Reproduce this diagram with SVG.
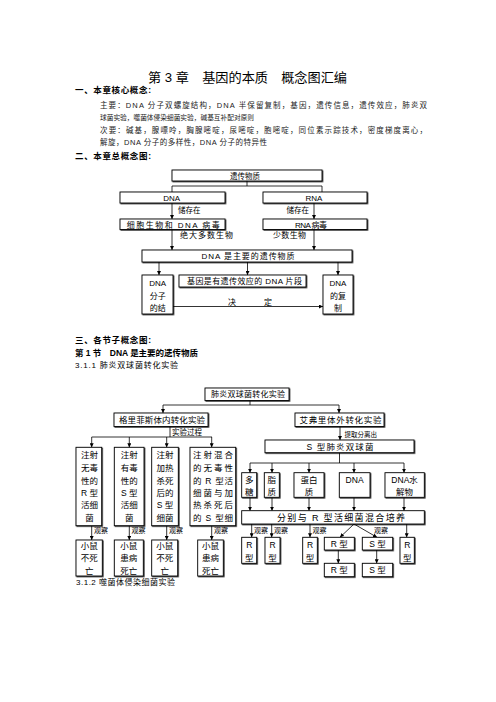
<svg xmlns="http://www.w3.org/2000/svg" width="496" height="702" viewBox="0 0 496 702">
<style>
.t{font-family:"Liberation Sans","Noto Sans CJK SC",sans-serif;fill:#000;font-size:8px}
.m{text-anchor:middle}
.h{font-weight:bold;font-size:8.5px}
.p{font-size:7.5px;fill:#222}
.s{font-size:7px}
.k{font-size:8.5px}
.bx{fill:#fff;stroke:#000;stroke-width:0.9;filter:url(#sh)}
.c{fill:none;stroke:#000;stroke-width:0.8}
.a{marker-end:url(#ar)}
</style>
<defs>
<marker id="ar" markerUnits="userSpaceOnUse" markerWidth="4" markerHeight="4" viewBox="0 0 6 6" refX="6" refY="3" orient="auto"><path d="M0,0 L6,3 L0,6 z" fill="#000"/></marker>
<filter id="sh" x="-10%" y="-10%" width="130%" height="140%"><feDropShadow dx="0.8" dy="0.8" stdDeviation="0" flood-color="#000" flood-opacity="0.8"/></filter>
</defs>
<rect width="496" height="702" fill="#fff"/>
<g id="header">
<text class="t" x="148" y="81.5" style="font-size:13px" textLength="199" lengthAdjust="spacingAndGlyphs">第 3 章　基因的本质　概念图汇编</text>
<text class="t h" x="75" y="93" textLength="76">一、本章核心概念:</text>
<text class="t p" x="100" y="107.8" textLength="327">主要：DNA 分子双螺旋结构，DNA 半保留复制，基因，遗传信息，遗传效应，肺炎双</text>
<text class="t p" x="100" y="119.8" style="font-size:7px" textLength="154" lengthAdjust="spacingAndGlyphs">球菌实验，噬菌体侵染细菌实验，碱基互补配对原则</text>
<text class="t p" x="100" y="132.8" textLength="327">次要：碱基，腺嘌呤，胸腺嘧啶，尿嘧啶，胞嘧啶，同位素示踪技术，密度梯度离心，</text>
<text class="t p" x="100" y="144.8" textLength="167">解旋，DNA 分子的多样性，DNA 分子的特异性</text>
<text class="t h" x="75" y="158.7" textLength="76">二、本章总概念图:</text>
<text class="t h" x="75" y="343" textLength="76">三、各节子概念图:</text>
<text class="t h" x="75" y="356" textLength="123">第 1 节　DNA 是主要的遗传物质</text>
<text class="t" x="75" y="368" textLength="103" fill="#333">3.1.1 肺炎双球菌转化实验</text>
<text class="t" x="76" y="585" textLength="99" fill="#333">3.1.2 噬菌体侵染细菌实验</text>
</g>

<g id="connectors">
<path class="c" d="M247 181 V186 M172 186 H322 M172 186 V192 M322 186 V192"/>
<path class="c a" d="M172 203 V219"/>
<path class="c a" d="M314 203 V219"/>
<path class="c a" d="M172 229.5 V250"/>
<path class="c a" d="M314 229.5 V250"/>
<path class="c a" d="M159 262 V275"/>
<path class="c a" d="M247.5 262 V275"/>
<path class="c a" d="M338 262 V275"/>
<path class="c a" d="M173 306.5 H323"/>
<path class="c" d="M250 400.5 V405 M163 405 H339"/>
<path class="c a" d="M163 405 V413"/>
<path class="c a" d="M339 405 V413"/>
<path class="c" d="M170 426.5 V437 M91.7 437 H212"/>
<path class="c a" d="M91.7 437 V447.3"/>
<path class="c a" d="M129.3 437 V447.3"/>
<path class="c a" d="M166.7 437 V447.3"/>
<path class="c a" d="M211.7 437 V447.3"/>
<path class="c a" d="M340 426.5 V440"/>
<path class="c" d="M339.5 452.7 V463 M250 463 H404"/>
<path class="c a" d="M250 463 V472.7"/>
<path class="c a" d="M272 463 V472.7"/>
<path class="c a" d="M309 463 V472.7"/>
<path class="c a" d="M354 463 V472.7"/>
<path class="c a" d="M404 463 V472.7"/>
<path class="c a" d="M250 497.3 V510.7"/>
<path class="c a" d="M272 497.3 V510.7"/>
<path class="c a" d="M309 497.3 V510.7"/>
<path class="c a" d="M354 497.3 V510.7"/>
<path class="c a" d="M404 497.3 V510.7"/>
<path class="c a" d="M91.7 525.7 V540"/>
<path class="c a" d="M129.3 525.7 V540"/>
<path class="c a" d="M166.7 525.7 V540"/>
<path class="c a" d="M211.7 525.7 V540"/>
<path class="c a" d="M251.7 524 V537.3"/>
<path class="c a" d="M271.7 524 V537.3"/>
<path class="c a" d="M310 524 V537.3"/>
<path class="c a" d="M354 524 L340 537.3"/>
<path class="c a" d="M354 524 L377 537.3"/>
<path class="c a" d="M406.7 524 V537.3"/>
<path class="c a" d="M338.3 550 V563.3"/>
<path class="c a" d="M376.7 550 V563.3"/>
<g class="t">
<text x="178" y="212.5" style="font-size:7.5px">储存在</text>
<text x="286.5" y="212.5" style="font-size:7.5px">储存在</text>
<text x="180" y="238" textLength="53">绝大多数生物</text>
<text x="273" y="238" textLength="33">少数生物</text>
<text x="228" y="304.5">决</text>
<text x="264" y="304.5">定</text>
<text x="172" y="434.5" style="font-size:7.5px">实验过程</text>
<text x="344.5" y="436.5" style="font-size:6.5px">提取分离出</text>
<text class="s" x="94" y="533">观察</text>
<text class="s" x="131.5" y="533">观察</text>
<text class="s" x="169" y="533">观察</text>
<text class="s" x="214" y="533">观察</text>
<text class="s" x="254" y="533">观察</text>
<text class="s" x="274" y="533">观察</text>
<text class="s" x="312.5" y="533">观察</text>
<text class="s" x="374" y="533">观察</text>
</g>
</g>

<g id="n-ycwz"><rect class="bx" x="172" y="170" width="150" height="11"/><text class="t m" x="245" y="178.8" style="font-size:7.5px">遗传物质</text></g>
<g id="n-dna"><rect class="bx" x="120" y="192" width="105" height="11"/><text class="t m" x="171.7" y="200.8">DNA</text></g>
<g id="n-rna"><rect class="bx" x="263" y="192" width="104" height="11"/><text class="t m" x="314" y="200.8">RNA</text></g>
<g id="n-xbsw"><rect class="bx" x="120" y="219" width="105" height="10.5"/><text class="t m" x="173.3" y="227.5" textLength="93">细胞生物和 DNA 病毒</text></g>
<g id="n-rnabd"><rect class="bx" x="263" y="219" width="104" height="10.5"/><text class="t m" x="311" y="227.5" textLength="32">RNA 病毒</text></g>
<g id="n-zyyc"><rect class="bx" x="142" y="250" width="210" height="12"/><text class="t m" x="248" y="259" textLength="93">DNA 是主要的遗传物质</text></g>
<g id="n-jg"><rect class="bx" x="142" y="275" width="31" height="39"/><g class="t m"><text x="157.7" y="286">DNA</text><text x="157.7" y="298.5">分子</text><text x="157.7" y="311">的结</text></g></g>
<g id="n-jy"><rect class="bx" x="179" y="275" width="127" height="12"/><text class="t m" x="244.5" y="284" textLength="115">基因是有遗传效应的 DNA 片段</text></g>
<g id="n-fz"><rect class="bx" x="323" y="275" width="30" height="39"/><g class="t m"><text x="338" y="286">DNA</text><text x="338" y="298.5">的复</text><text x="338" y="311">制</text></g></g>

<g id="n-fy"><rect class="bx" x="205" y="388" width="84" height="12.5"/><text class="t m" x="248" y="397.3" textLength="74">肺炎双球菌转化实验</text></g>
<g id="n-glfs"><rect class="bx" x="114" y="413" width="94" height="13.5"/><text class="t m k" x="162" y="423" textLength="86">格里菲斯体内转化实验</text></g>
<g id="n-afl"><rect class="bx" x="295" y="413" width="89" height="13.5"/><text class="t m k" x="340.5" y="423" textLength="82">艾弗里体外转化实验</text></g>
<g id="n-s"><rect class="bx" x="265" y="440" width="149" height="12.7"/><text class="t m k" x="340" y="449.6" textLength="67">S 型肺炎双球菌</text></g>

<g id="n-g1"><rect class="bx" x="76" y="447.3" width="25.7" height="78.4"/><g class="t m k"><text x="89.5" y="458">注射</text><text x="89.5" y="471">无毒</text><text x="89.5" y="483.5">性的</text><text x="89.5" y="496">R 型</text><text x="89.5" y="508">活细</text><text x="89.5" y="521">菌</text></g></g>
<g id="n-g2"><rect class="bx" x="114.3" y="447.3" width="29.7" height="78.4"/><g class="t m k"><text x="129.2" y="458">注射</text><text x="129.2" y="471">有毒</text><text x="129.2" y="483.5">性的</text><text x="129.2" y="496">S 型</text><text x="129.2" y="508">活细</text><text x="129.2" y="521">菌</text></g></g>
<g id="n-g3"><rect class="bx" x="151.7" y="447.3" width="26.6" height="78.4"/><g class="t m k"><text x="165" y="458">注射</text><text x="165" y="471">加热</text><text x="165" y="483.5">杀死</text><text x="165" y="496">后的</text><text x="165" y="508">S 型</text><text x="165" y="521">细菌</text></g></g>
<g id="n-g4"><rect class="bx" x="190" y="447.3" width="45.7" height="78.4"/><g class="t m k"><text x="213" y="458" textLength="40">注射混合</text><text x="213" y="471" textLength="40">的无毒性</text><text x="213" y="483.5" textLength="40">的 R 型活</text><text x="213" y="496" textLength="40">细菌与加</text><text x="213" y="508" textLength="40">热杀死后</text><text x="213" y="521" textLength="40">的 S 型细</text></g></g>

<g id="n-r1"><rect class="bx" x="76" y="540" width="26.3" height="36"/><g class="t m k"><text x="89.2" y="549">小鼠</text><text x="89.2" y="561">不死</text><text x="89.2" y="573.5">亡</text></g></g>
<g id="n-r2"><rect class="bx" x="114.3" y="540" width="29" height="36"/><g class="t m k"><text x="128.8" y="549">小鼠</text><text x="128.8" y="561">患病</text><text x="128.8" y="573.5">死亡</text></g></g>
<g id="n-r3"><rect class="bx" x="151.7" y="540" width="26" height="36"/><g class="t m k"><text x="164.7" y="549">小鼠</text><text x="164.7" y="561">不死</text><text x="164.7" y="573.5">亡</text></g></g>
<g id="n-r4"><rect class="bx" x="197.7" y="540" width="25.6" height="36"/><g class="t m k"><text x="210.5" y="549">小鼠</text><text x="210.5" y="561">患病</text><text x="210.5" y="573.5">死亡</text></g></g>

<g id="n-dt"><rect class="bx" x="241.7" y="472.7" width="15" height="24.6"/><g class="t m k"><text x="249.2" y="482.5">多</text><text x="249.2" y="494.5">糖</text></g></g>
<g id="n-zz"><rect class="bx" x="264.3" y="472.7" width="15" height="24.6"/><g class="t m k"><text x="271.8" y="482.5">脂</text><text x="271.8" y="494.5">质</text></g></g>
<g id="n-dbz"><rect class="bx" x="294" y="472.7" width="30" height="24.6"/><g class="t m k"><text x="309" y="482.5">蛋白</text><text x="309" y="494.5">质</text></g></g>
<g id="n-dnab"><rect class="bx" x="339.3" y="472.7" width="30.7" height="24.6"/><text class="t m k" x="354.6" y="482.5">DNA</text></g>
<g id="n-sjw"><rect class="bx" x="385" y="472.7" width="39.3" height="24.6"/><g class="t m k"><text x="404.6" y="482.5">DNA水</text><text x="404.6" y="494.5">解物</text></g></g>
<g id="n-hh"><rect class="bx" x="241.7" y="510.7" width="182.6" height="13.3"/><text class="t m" x="341" y="520.5" style="font-size:9px" textLength="128">分别与 R 型活细菌混合培养</text></g>

<g id="n-o1"><rect class="bx" x="241.7" y="537.3" width="15" height="26"/><g class="t m k"><text x="249.2" y="547.5">R</text><text x="249.2" y="560.5">型</text></g></g>
<g id="n-o2"><rect class="bx" x="265" y="537.3" width="15" height="26"/><g class="t m k"><text x="272.5" y="547.5">R</text><text x="272.5" y="560.5">型</text></g></g>
<g id="n-o3"><rect class="bx" x="302.7" y="537.3" width="14.6" height="26"/><g class="t m k"><text x="310" y="547.5">R</text><text x="310" y="560.5">型</text></g></g>
<g id="n-o4"><rect class="bx" x="324.3" y="537.3" width="30" height="12.7"/><text class="t m k" x="339.3" y="546.8">R 型</text></g>
<g id="n-o5"><rect class="bx" x="362.3" y="537.3" width="30.4" height="12.7"/><text class="t m k" x="377.5" y="546.8">S 型</text></g>
<g id="n-o6"><rect class="bx" x="400" y="537.3" width="14.3" height="26"/><g class="t m k"><text x="407.2" y="547.5">R</text><text x="407.2" y="560.5">型</text></g></g>
<g id="n-o7"><rect class="bx" x="324.3" y="563.3" width="30" height="13.4"/><text class="t m k" x="339.3" y="573.2">R 型</text></g>
<g id="n-o8"><rect class="bx" x="362.3" y="563.3" width="30.4" height="13.4"/><text class="t m k" x="377.5" y="573.2">S 型</text></g>
</svg>
